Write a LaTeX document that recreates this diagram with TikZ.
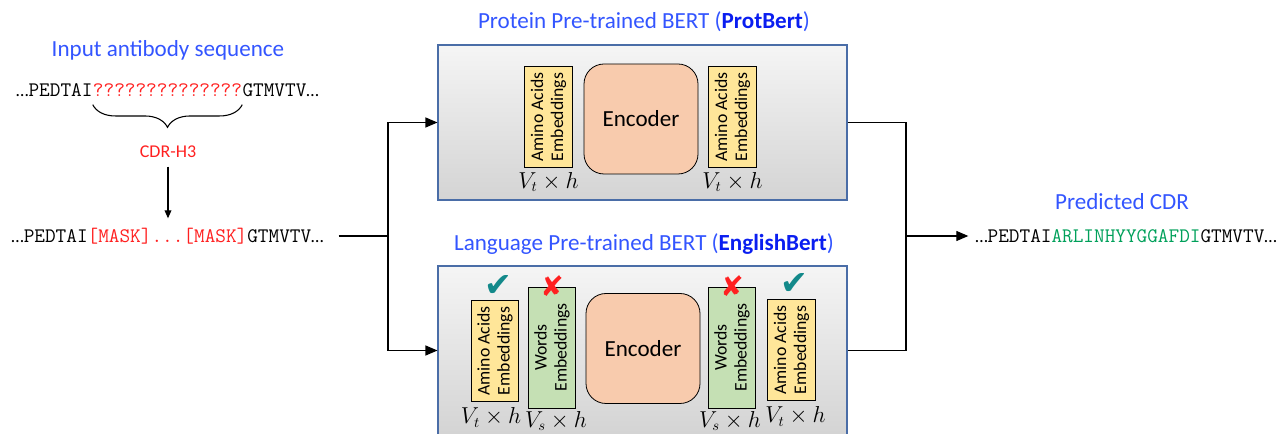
\documentclass[tikz,border=0pt]{standalone}
\usepackage[no-math]{fontspec}
\setmainfont{Carlito}
\newfontfamily\symfont{DejaVu Sans}
\usetikzlibrary{positioning,arrows.meta,decorations.pathreplacing}

\definecolor{titleblue}{HTML}{3355FF}
\definecolor{nameblue}{HTML}{0A1EF0}
\definecolor{cdrred}{HTML}{FF2020}
\definecolor{predgreen}{HTML}{00A05A}
\definecolor{okteal}{HTML}{13898A}
\definecolor{boxline}{HTML}{4A6DA7}
\definecolor{aminofill}{HTML}{FFE699}
\definecolor{wordfill}{HTML}{C5E0B4}
\definecolor{encfill}{HTML}{F8CBAD}

\newcommand\trunc{{\rmfamily\fontsize{13.5}{16}\selectfont …}}

\begin{document}
\begin{tikzpicture}[x=0.75pt,y=-0.75pt,
    >={Triangle[length=9pt,width=7.5pt]},
    title/.style={text=titleblue,font=\fontsize{17.3}{20}\selectfont},
    seq/.style={inner sep=0pt,font=\ttfamily\fontsize{15.5}{18}\selectfont},
    bertbox/.style={draw=boxline,line width=0.8pt,top color=black!4,bottom color=black!17,
                    minimum width=306.75pt,inner sep=0pt},
    emb/.style={draw,line width=0.6pt,inner sep=0pt,minimum width=35.5pt},
    amino/.style={emb,fill=aminofill,minimum height=76pt},
    words/.style={emb,fill=wordfill,minimum height=90.75pt},
    embtext/.style={rotate=90,align=center,font=\fontsize{13.3}{15}\selectfont},
    encoder/.style={draw,line width=0.6pt,fill=encfill,rounded corners=15pt,
                    minimum width=85.5pt,minimum height=82.5pt,font=\fontsize{17.3}{20}\selectfont},
    dim/.style={inner sep=1pt,font=\fontsize{16}{19}\selectfont},
    ok/.style={text=okteal,font=\symfont\fontsize{25}{26}\selectfont},
    no/.style={text=cdrred,font=\symfont\fontsize{21}{22}\selectfont},
    link/.style={line width=0.9pt}]
  \useasboundingbox (0,0) rectangle (1283,434);

  % input sequence
  \node[title] (intitle) at (168,50) {Input antibody sequence};
  \node[seq,text=cdrred] (qs) at (167.5,90) {??????????????};
  \node[seq,base left=0pt of qs] (qsl) {\trunc PEDTAI};
  \node[seq,base right=0pt of qs] (qsr) {GTMVTV\trunc};
  \draw[line width=0.8pt,decorate,decoration={brace,mirror,amplitude=17pt,raise=6pt}]
    (qs.south west) -- (qs.south east);
  \node[text=cdrred,font=\fontsize{13.5}{16}\selectfont] (cdr) at (168,152) {CDR-H3};
  \node[seq] (inmask) at (167.5,236)
    {\trunc PEDTAI\textcolor{cdrred}{[MASK]...[MASK]}GTMVTV\trunc};
  \draw[link,-{Triangle[length=6pt,width=5pt]},shorten <=3pt,shorten >=7pt]
    (cdr.south) -- (cdr.south |- inmask.north);

  % ProtBert
  \node[bertbox,minimum height=116.25pt] (prot) at (642.5,122.5) {};
  \node[title] (prottitle) at (644,22)
    {Protein Pre-trained BERT (\textbf{\textcolor{nameblue}{ProtBert}})};
  \node[amino] (pin) at (548.5,117) {};
  \node[embtext] at (pin) {Amino Acids\\Embeddings};
  \node[dim,below=2pt of pin] {$V_t\times h$};
  \node[encoder] (penc) at (641,119) {Encoder};
  \node[amino] (pout) at (732.5,117) {};
  \node[embtext] at (pout) {Amino Acids\\Embeddings};
  \node[dim,below=2pt of pout] {$V_t\times h$};

  % EnglishBert
  \node[bertbox,minimum height=126.75pt] (eng) at (642.5,350.5) {};
  \node[title] (engtitle) at (644,244)
    {Language Pre-trained BERT (\textbf{\textcolor{nameblue}{EnglishBert}})};
  \node[amino] (ein) at (495,351) {};
  \node[embtext] at (ein) {Amino Acids\\Embeddings};
  \node[dim,below=3pt of ein,xshift=-3pt] {$V_t\times h$};
  \node[words] (ewin) at (552,347.5) {};
  \node[embtext] at (ewin) {Words\\Embeddings};
  \node[dim,below=1pt of ewin,xshift=3pt] {$V_s\times h$};
  \node[encoder] (eenc) at (643,348.5) {Encoder};
  \node[words] (ewout) at (732,347.5) {};
  \node[embtext] at (ewout) {Words\\Embeddings};
  \node[dim,below=1pt of ewout,xshift=-1.5pt] {$V_s\times h$};
  \node[amino] (eout) at (791.5,350) {};
  \node[embtext] at (eout) {Amino Acids\\Embeddings};
  \node[dim,below=3pt of eout,xshift=3pt] {$V_t\times h$};
  \node[ok] at (498,286) {✔};
  \node[ok] at (794,284) {✔};
  \node[no] at (ewin.north) {✘};
  \node[no] at (ewout.north) {✘};

  % connectors
  \coordinate (split) at (388,236);
  \coordinate (merge) at (906,236);
  \draw[link,shorten <=11pt] (inmask.east) -- (split);
  \draw[link,->] (split) |- (prot.west);
  \draw[link,->] (split) |- (eng.west);
  \draw[link] (prot.east) -| (merge);
  \draw[link] (eng.east) -| (merge);

  % prediction
  \node[title] (outtitle) at (1122,202) {Predicted CDR};
  \node[seq,anchor=west] (outseq) at (975,236)
    {\trunc PEDTAI\textcolor{predgreen}{ARLINHYYGGAFDI}GTMVTV\trunc};
  \draw[link,->,shorten >=5pt] (merge) -- (outseq.west);
\end{tikzpicture}
\end{document}
